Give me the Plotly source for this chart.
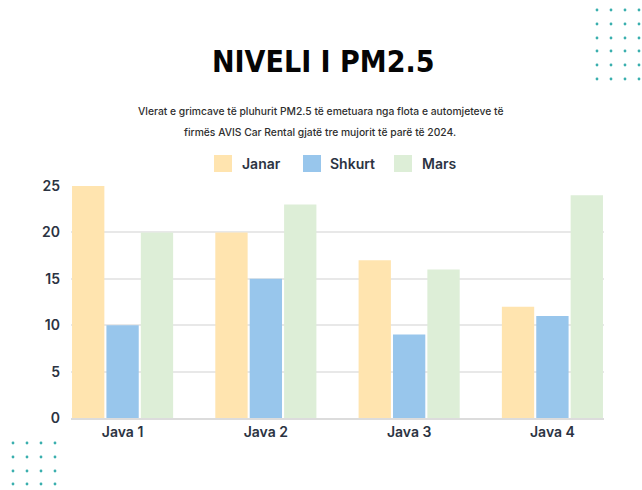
import plotly.graph_objects as go

# Weekly PM2.5 readings per month
weeks = ["Java 1", "Java 2", "Java 3", "Java 4"]
months = ["Janar", "Shkurt", "Mars"]
janar = [25, 20, 17, 12]
shkurt = [10, 15, 9, 11]
mars = [20, 23, 16, 24]
y_ticks = [0, 5, 10, 15, 20, 25]

series = [janar, shkurt, mars]
colors = ["#FFE4AF", "#98C6EC", "#DDEED7"]

W, H = 642, 490
L, R, T, B = 71, 38, 186, 72
PW, PH = W - L - R, H - T - B

def px(x):
    return (x - L) / PW

def py(y):
    return (H - B - y) / PH

fig = go.Figure()
for name, vals, col in zip(months, series, colors):
    fig.add_trace(go.Bar(x=weeks, y=vals, name=name, marker=dict(color=col, line=dict(width=0)),
                         showlegend=False))

body_font = "Inter, Open Sans, sans-serif"
label_col = "#2b3342"
annotations = [
    dict(text="NIVELI I PM2.5", x=px(323), y=py(62), xref="paper", yref="paper",
         showarrow=False, xanchor="center", yanchor="middle",
         font=dict(family="DejaVu Sans Condensed, Liberation Sans Narrow, sans-serif",
                   size=30, color="#050505", weight="bold")),
    dict(text="Vlerat e grimcave të pluhurit PM2.5 të emetuara nga flota e automjeteve të",
         x=px(320), y=py(111), xref="paper", yref="paper", showarrow=False,
         xanchor="center", yanchor="middle",
         font=dict(family=body_font, size=10.3, color="#2f2f2f", weight=500)),
    dict(text="firmës AVIS Car Rental gjatë tre mujorit të parë të 2024.",
         x=px(320), y=py(132), xref="paper", yref="paper", showarrow=False,
         xanchor="center", yanchor="middle",
         font=dict(family=body_font, size=10.3, color="#2f2f2f", weight=500)),
]

shapes = []
# Custom legend: swatches and labels
legend_pos = [(214, 240), (303, 328), (394, 420)]
for (sx, tx), name, col in zip(legend_pos, months, colors):
    shapes.append(dict(type="rect", xref="paper", yref="paper",
                       x0=px(sx), x1=px(sx + 18), y0=py(155), y1=py(172),
                       fillcolor=col, line=dict(width=0), layer="above"))
    annotations.append(dict(text=name, x=px(tx), y=py(163.5), xref="paper", yref="paper",
                            showarrow=False, xanchor="left", yanchor="middle",
                            font=dict(family=body_font, size=14, color=label_col, weight=600)))

# Decorative dot grids
dot_col = "#3AAFAE"
for cx in [597, 611, 625, 639]:
    for cy in [10, 24, 38, 51, 65, 79]:
        shapes.append(dict(type="circle", xref="paper", yref="paper",
                           x0=px(cx - 1.4), x1=px(cx + 1.4), y0=py(cy - 1.4), y1=py(cy + 1.4),
                           fillcolor=dot_col, line=dict(width=0)))
for cx in [13, 27, 41, 55]:
    for cy in [443, 457, 471, 484]:
        shapes.append(dict(type="circle", xref="paper", yref="paper",
                           x0=px(cx - 1.4), x1=px(cx + 1.4), y0=py(cy - 1.4), y1=py(cy + 1.4),
                           fillcolor=dot_col, line=dict(width=0)))

fig.update_layout(
    width=W, height=H,
    margin=dict(l=L, r=R, t=T, b=B),
    paper_bgcolor="white", plot_bgcolor="white",
    barmode="group", bargap=0.28, bargroupgap=0.06,
    annotations=annotations, shapes=shapes,
    xaxis=dict(range=[-0.36, 3.36], showgrid=False, showline=True, linecolor="#dcdcdc",
               linewidth=1.5, ticks="", tickfont=dict(family=body_font, size=14, color=label_col,
                                                      weight=600), fixedrange=True),
    yaxis=dict(range=[0, 25], tickvals=y_ticks, showgrid=True, gridcolor="#e8e8e8",
               gridwidth=1.5, zeroline=False, showline=False, ticks="", ticklabelstandoff=10,
               tickfont=dict(family=body_font, size=14, color=label_col, weight=600),
               fixedrange=True),
    showlegend=False,
)

fig.write_html("out.html")
